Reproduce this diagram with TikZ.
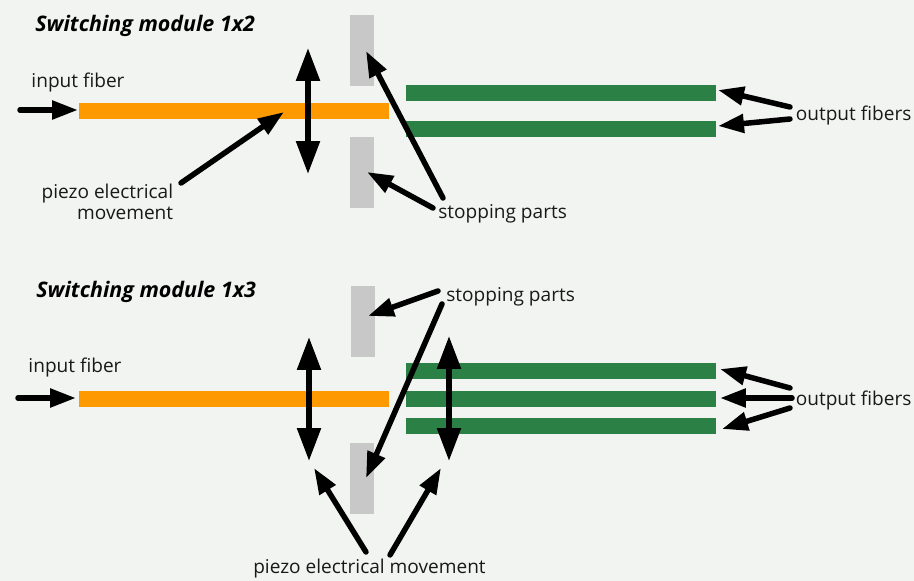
\documentclass[tikz,border=0pt]{standalone}
\usepackage{fontspec}
\setmainfont{Open Sans}
\usetikzlibrary{arrows.meta}
\definecolor{pageBg}{HTML}{F2F4F2}
\definecolor{fiberOrange}{HTML}{FF9900}
\definecolor{fiberGreen}{HTML}{2A8045}
\definecolor{stopGray}{HTML}{C8C8C8}
\begin{document}
\begin{tikzpicture}[x=0.02cm, y=-0.02cm,
    inFiber/.style={rectangle, fill=fiberOrange, inner sep=0pt, minimum width=6.2cm, minimum height=0.32cm},
    outFiber/.style={rectangle, fill=fiberGreen, inner sep=0pt, minimum width=6.2cm, minimum height=0.32cm},
    stopPart/.style={rectangle, fill=stopGray, inner sep=0pt, minimum width=0.48cm, minimum height=1.42cm},
    labelStyle/.style={inner sep=0pt, text=black!90, font=\fontsize{10.85pt}{12pt}\selectfont},
    titleStyle/.style={inner sep=0pt, anchor=west, font=\fontsize{12.2pt}{14pt}\selectfont\bfseries\itshape},
    pointer/.style={-{Triangle[length=0.52cm, width=0.36cm]}, line width=0.11cm, line cap=round},
    travel/.style={{Triangle[length=0.66cm, width=0.46cm]}-{Triangle[length=0.66cm, width=0.46cm]}, line width=0.11cm}]
    \fill[pageBg] (0,0) rectangle (914,581);
    \useasboundingbox (0,0) rectangle (914,581);
    % upper module
    \node[titleStyle] (title_A) at (35, 26) {Switching module 1x2};
    \node[stopPart] (stop_A0) at (362, 50.5) {};
    \node[stopPart] (stop_A1) at (362, 172.5) {};
    \node[inFiber] (in_A) at (234, 111) {};
    \node[outFiber] (out_A0) at (561, 93) {};
    \node[outFiber] (out_A1) at (561, 129) {};
    \node[labelStyle] (inLabel_A) at (78, 82.5) {input fiber};
    \node[labelStyle, align=right, anchor=east] (piezoLabel_A) at (173.5, 202) {piezo electrical\\movement};
    \node[labelStyle, anchor=west] (stopLabel_A) at (438, 214) {stopping parts};
    \node[labelStyle, anchor=west] (outLabel_A) at (795.5, 115) {output fibers};
    \coordinate (inStart_A) at (20, 110);
    \coordinate (inEnd_A) at (78, 110);
    \coordinate (travelTop_A) at (308, 48);
    \coordinate (travelBot_A) at (308, 174);
    \coordinate (piezoStart_A) at (181, 183);
    \coordinate (piezoEnd_A) at (284, 112);
    \coordinate (stopStart_A0) at (443, 198);
    \coordinate (stopEnd_A0) at (366, 51);
    \coordinate (stopStart_A1) at (433, 208);
    \coordinate (stopEnd_A1) at (367, 172);
    \coordinate (outStart_A0) at (790, 107);
    \coordinate (outEnd_A0) at (718, 90);
    \coordinate (outStart_A1) at (790, 119);
    \coordinate (outEnd_A1) at (718, 126);
    \draw[pointer] (inStart_A) -- (inEnd_A);
    \draw[travel] (travelTop_A) -- (travelBot_A);
    \draw[pointer] (piezoStart_A) -- (piezoEnd_A);
    \draw[pointer] (stopStart_A0) -- (stopEnd_A0);
    \draw[pointer] (stopStart_A1) -- (stopEnd_A1);
    \draw[pointer] (outStart_A0) -- (outEnd_A0);
    \draw[pointer] (outStart_A1) -- (outEnd_A1);
    % lower module
    \node[titleStyle] (title_B) at (36, 292) {Switching module 1x3};
    \node[stopPart] (stop_B0) at (363, 321.5) {};
    \node[stopPart] (stop_B1) at (362, 478.5) {};
    \node[inFiber] (in_B) at (234, 399) {};
    \node[outFiber] (out_B0) at (561, 371) {};
    \node[outFiber] (out_B1) at (561, 399) {};
    \node[outFiber] (out_B2) at (561, 426) {};
    \node[labelStyle] (inLabel_B) at (75, 367.5) {input fiber};
    \node[labelStyle, anchor=west] (stopLabel_B) at (446, 297) {stopping parts};
    \node[labelStyle, anchor=west] (outLabel_B) at (795.5, 400) {output fibers};
    \node[labelStyle] (piezoLabel_B) at (369.5, 569) {piezo electrical movement};
    \coordinate (inStart_B) at (18, 398);
    \coordinate (inEnd_B) at (76, 398);
    \coordinate (travelTop_B0) at (309, 337);
    \coordinate (travelBot_B0) at (309, 461);
    \coordinate (travelTop_B1) at (449, 336);
    \coordinate (travelBot_B1) at (449, 461);
    \coordinate (stopStart_B0) at (438, 291);
    \coordinate (stopEnd_B0) at (368, 316);
    \coordinate (stopStart_B1) at (442, 304);
    \coordinate (stopEnd_B1) at (366, 478);
    \coordinate (piezoStart_B0) at (366, 552);
    \coordinate (piezoEnd_B0) at (314, 468);
    \coordinate (piezoStart_B1) at (390, 555);
    \coordinate (piezoEnd_B1) at (441, 468);
    \coordinate (outStart_B0) at (790, 388);
    \coordinate (outEnd_B0) at (720, 369);
    \coordinate (outStart_B1) at (792, 398);
    \coordinate (outEnd_B1) at (720, 398);
    \coordinate (outStart_B2) at (790, 408);
    \coordinate (outEnd_B2) at (722, 429);
    \draw[pointer] (inStart_B) -- (inEnd_B);
    \draw[travel] (travelTop_B0) -- (travelBot_B0);
    \draw[travel] (travelTop_B1) -- (travelBot_B1);
    \draw[pointer] (stopStart_B0) -- (stopEnd_B0);
    \draw[pointer] (stopStart_B1) -- (stopEnd_B1);
    \draw[pointer] (piezoStart_B0) -- (piezoEnd_B0);
    \draw[pointer] (piezoStart_B1) -- (piezoEnd_B1);
    \draw[pointer] (outStart_B0) -- (outEnd_B0);
    \draw[pointer] (outStart_B1) -- (outEnd_B1);
    \draw[pointer] (outStart_B2) -- (outEnd_B2);
\end{tikzpicture}
\end{document}
